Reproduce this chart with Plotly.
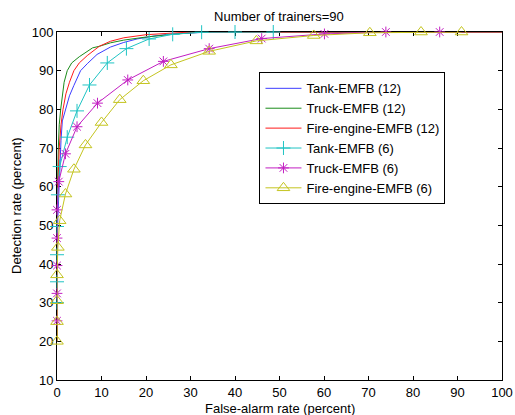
import plotly.graph_objects as go

# ROC curves: false-alarm rate (x, percent) vs detection rate (y, percent)

# 12-feature EMFB curves (dense, line only)
tank12_x = [0, 0, 0.2, 0.5, 0.9, 1.2, 2.0, 2.8, 3.8, 5.3, 6.8, 9.0, 12.0, 15.0, 18.0, 22.0, 27.0, 33.0, 40.0, 100.0]
tank12_y = [20, 40, 52, 62, 72, 77, 80, 83.5, 86.2, 90.0, 91.8, 94.2, 96.1, 97.3, 98.2, 99.0, 99.6, 99.9, 100, 100]

truck12_x = [0, 0, 0.1, 0.3, 0.5, 0.83, 1.2, 1.6, 2.3, 3.3, 5.0, 8.0, 9.5, 12.0, 15.0, 20.0, 25.0, 30.0, 35.0, 100.0]
truck12_y = [20, 45, 60, 70, 76, 80, 84, 87, 90, 92, 93.6, 95.9, 96.3, 97.2, 97.9, 98.7, 99.3, 99.8, 100, 100]

fire12_x = [0, 0, 0.2, 0.5, 0.9, 1.35, 2.0, 2.8, 3.8, 5.0, 6.8, 9.5, 12.0, 15.0, 20.0, 25.0, 30.0, 100.0]
fire12_y = [20, 45, 60, 70, 76, 80, 84, 87, 90, 92.0, 93.9, 96.3, 97.6, 98.5, 99.3, 99.7, 100, 100]

# 6-feature EMFB curves (with markers)
tank6_x = [0, 0, 0, 0, 0.2, 0.6, 2.3, 4.5, 7.3, 11.3, 15.6, 20.7, 26.0, 32.5, 40.0, 48.6]
tank6_y = [30.0, 35.4, 42.4, 49.7, 57.9, 65.2, 72.8, 79.6, 86.3, 92.0, 95.7, 98.2, 99.4, 99.95, 100, 100]

truck6_x = [0, 0, 0, 0, 0, 0.4, 1.9, 4.5, 9.1, 15.9, 23.9, 34.2, 46.0, 60.1, 73.9, 86.0]
truck6_y = [25.3, 32.4, 39.6, 46.7, 54.0, 61.3, 68.5, 75.5, 81.6, 87.6, 92.4, 95.7, 98.3, 99.5, 100, 100]

fire6_x = [0, 0, 0, 0, 0.2, 0.6, 1.9, 3.8, 6.4, 10.0, 14.1, 19.4, 25.6, 34.2, 44.8, 57.7, 70.3, 81.8, 90.9]
fire6_y = [20.0, 25.1, 30.5, 37.2, 44.3, 51.2, 58.1, 64.5, 70.8, 76.6, 82.5, 87.4, 91.5, 95.0, 97.7, 99.1, 99.8, 100, 100]

x_ticks = list(range(0, 101, 10))
y_ticks = list(range(10, 101, 10))

FONT = "Arial, 'Liberation Sans', sans-serif"
TXT = dict(family=FONT, size=13, color="black")

fig = go.Figure()

line_series = [
    ("Tank-EMFB (12)", tank12_x, tank12_y, "#3c3cff"),
    ("Truck-EMFB (12)", truck12_x, truck12_y, "#1a8c1a"),
    ("Fire-engine-EMFB (12)", fire12_x, fire12_y, "#ff1a1a"),
]
for name, xs, ys, col in line_series:
    fig.add_trace(go.Scatter(
        x=xs, y=ys, name=name, mode="lines",
        line=dict(color=col, width=1),
    ))

marker_series = [
    ("Tank-EMFB (6)", tank6_x, tank6_y, "#1fc4c4", "cross-thin-open", 10),
    ("Truck-EMFB (6)", truck6_x, truck6_y, "#c21fc2", "asterisk-open", 9),
    ("Fire-engine-EMFB (6)", fire6_x, fire6_y, "#c4c41f", "triangle-up-open", 11),
]
for name, xs, ys, col, sym, size in marker_series:
    fig.add_trace(go.Scatter(
        x=xs, y=ys, name=name, mode="lines+markers",
        line=dict(color=col, width=1),
        marker=dict(symbol=sym, size=size, color=col, line=dict(color=col, width=1)),
        cliponaxis=False,
    ))

axis_common = dict(
    showline=True, linecolor="black", linewidth=1, mirror="ticks",
    ticks="inside", ticklen=4, tickcolor="black", tickwidth=1,
    showgrid=False, zeroline=False, layer="below traces",
    automargin=False, tickfont=TXT,
)

fig.update_layout(
    width=515, height=415,
    margin=dict(l=57, r=13, t=32, b=35),
    paper_bgcolor="white", plot_bgcolor="white",
    font=TXT,
    title=dict(text="Number of trainers=90", x=0.5415, xanchor="center",
               y=0.96, yanchor="middle", font=TXT),
    xaxis=dict(range=[0, 100], tickvals=x_ticks, **axis_common),
    yaxis=dict(range=[10, 100], tickvals=y_ticks, **axis_common),
    legend=dict(x=0.455, y=0.884, xanchor="left", yanchor="top",
                bordercolor="black", borderwidth=1, bgcolor="white",
                font=TXT, itemwidth=36, tracegroupgap=0),
    showlegend=True,
    annotations=[
        dict(text="False-alarm rate (percent)", x=0.5, y=0, xref="paper", yref="paper",
             xanchor="center", yanchor="middle", yshift=-28, showarrow=False, font=TXT),
        dict(text="Detection rate (percent)", x=0, y=0.5, xref="paper", yref="paper",
             xanchor="center", yanchor="middle", xshift=-41, textangle=-90,
             showarrow=False, font=TXT),
    ],
)

fig.write_html("out.html")
